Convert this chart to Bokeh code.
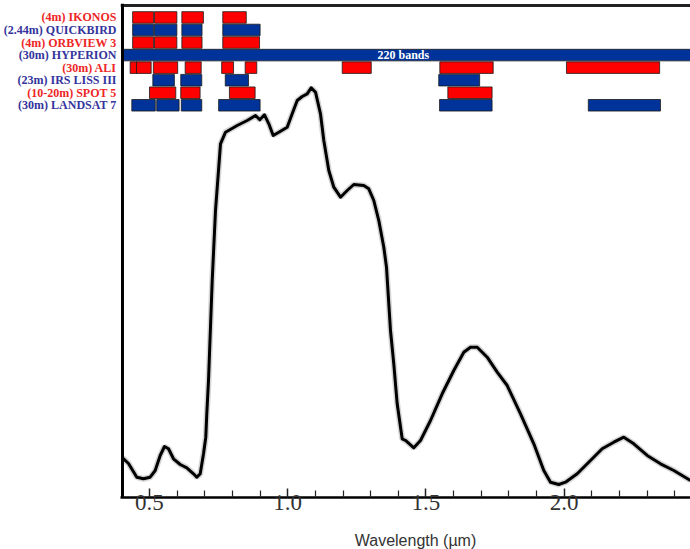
from bokeh.plotting import figure
from bokeh.layouts import row, column
from bokeh.models import (ColumnDataSource, FixedTicker, Span, Range1d,
                          NumeralTickFormatter, Label)
from bokeh.core.properties import value
from bokeh.embed import file_html
from bokeh.resources import INLINE

# ---------------- data ----------------
sensor_names = ["(4m) IKONOS", "(2.44m) QUICKBIRD", "(4m) ORBVIEW 3", "(30m) HYPERION",
                "(30m) ALI", "(23m) IRS LISS III", "(10-20m) SPOT 5", "(30m) LANDSAT 7"]
sensor_kind = ["r", "b", "r", "b", "r", "b", "r", "b"]

ikonos_bands = [(0.439, 0.515), (0.518, 0.599), (0.617, 0.695), (0.765, 0.850)]
quickbird_bands = [(0.439, 0.515), (0.518, 0.599), (0.617, 0.690), (0.765, 0.900)]
orbview_bands = [(0.439, 0.515), (0.518, 0.599), (0.617, 0.690), (0.765, 0.898)]
hyperion_bands = [(0.400, 2.576)]
ali_bands = [(0.430, 0.455), (0.453, 0.506), (0.514, 0.602), (0.629, 0.687), (0.761, 0.804),
             (0.846, 0.888), (1.197, 1.302), (1.550, 1.743), (2.008, 2.345)]
irs_bands = [(0.512, 0.590), (0.613, 0.689), (0.774, 0.858), (1.546, 1.694)]
spot_bands = [(0.500, 0.595), (0.613, 0.683), (0.789, 0.882), (1.579, 1.739)]
landsat_bands = [(0.436, 0.521), (0.526, 0.607), (0.615, 0.689), (0.750, 0.900),
                 (1.549, 1.739), (2.087, 2.348)]
all_bands = [ikonos_bands, quickbird_bands, orbview_bands, hyperion_bands,
             ali_bands, irs_bands, spot_bands, landsat_bands]
hyperion_note = "220 bands"
hyperion_note_x = 1.418

wavelength = [0.4023, 0.4241, 0.4541, 0.4783, 0.5025, 0.5206, 0.5387, 0.5542, 0.5687, 0.5868,
              0.6110, 0.6349, 0.6591, 0.6711, 0.6834, 0.6953, 0.7036, 0.7072, 0.7134, 0.7268,
              0.7387, 0.7568, 0.7749, 0.8172, 0.8533, 0.8834, 0.8989, 0.9159, 0.9315, 0.9474,
              0.9738, 0.9980, 1.0161, 1.0342, 1.0523, 1.0703, 1.0848, 1.1004, 1.1184, 1.1304,
              1.1485, 1.1666, 1.1908, 1.2150, 1.2389, 1.2750, 1.2931, 1.3112, 1.3293, 1.3474,
              1.3571, 1.3716, 1.3835, 1.3958, 1.4139, 1.4259, 1.4559, 1.4801, 1.5163, 1.5586,
              1.6005, 1.6367, 1.6609, 1.6852, 1.7213, 1.7575, 1.7937, 1.8418, 1.8899, 1.9260,
              1.9503, 1.9803, 2.0045, 2.0468, 2.0949, 2.1372, 2.1792, 2.2154, 2.2515, 2.3000,
              2.3481, 2.3962, 2.4565]
reflectance = [8.07, 6.91, 4.13, 3.80, 4.13, 5.49, 8.54, 10.37, 9.90, 7.87,
               6.71, 6.04, 4.82, 4.13, 4.82, 8.88, 12.26, 17.01, 23.78, 44.11,
               58.33, 71.89, 74.25, 75.61, 76.63, 77.64, 76.77, 77.78, 75.96, 73.58,
               74.45, 75.26, 77.99, 80.69, 81.50, 82.05, 83.27, 82.38, 77.99, 72.56,
               66.46, 63.07, 61.04, 62.40, 63.62, 63.41, 62.74, 60.37, 56.30, 50.87,
               46.81, 33.94, 27.17, 19.04, 11.93, 11.59, 10.10, 11.59, 15.65, 21.08,
               25.81, 29.53, 30.55, 30.55, 28.52, 25.47, 22.76, 17.01, 10.91, 5.49,
               3.11, 2.64, 3.11, 4.82, 7.52, 9.90, 11.24, 12.26, 10.91, 8.54,
               6.85, 5.49, 3.46]

major_ticks = [0.5, 1.0, 1.5, 2.0]
minor_ticks = [0.6, 0.7, 0.8, 0.9, 1.1, 1.2, 1.3, 1.4, 1.6, 1.7, 1.8, 1.9, 2.1, 2.2, 2.3, 2.4]
x_title = "Wavelength (µm)"

# ---------------- styling / layout ----------------
RED = "#ff0000"
BLUE = "#003399"
LABEL_RED = "#ee2626"
LABEL_BLUE = "#34349c"
W = 690
LEFT_W = 120            # width of the label strip (px)
X_LEFT_EDGE = 0.4023    # where the left frame line sits
X0, X1 = 0.39512, 2.4566
Y0, Y1 = 0.0, 100.41
Y_TOP_LINE = 100.0
ROW_TOP = 98.85
ROW_STEP = 2.55
ROW_H = 2.35
H_MAIN = 530
H_TITLE = 19
TOP_B, BOT_B = 3, 33
TITLE_X = 415           # px, centre of the axis title
TITLE_BASE = 9          # px above the bottom of the title strip


def clean(fig):
    fig.xgrid.visible = False
    fig.ygrid.visible = False
    fig.outline_line_color = None
    fig.background_fill_color = "white"
    fig.border_fill_color = "white"


shared_y = Range1d(Y0, Y1)

p = figure(width=W - LEFT_W, height=H_MAIN, output_backend="svg", toolbar_location=None,
           x_range=Range1d(X0, X1), y_range=shared_y, y_axis_location=None,
           min_border_left=0, min_border_right=0, min_border_top=TOP_B,
           min_border_bottom=BOT_B)
clean(p)

# band bars
left, right, bottom, top, fill = [], [], [], [], []
centers = []
for i, bands in enumerate(all_bands):
    c = ROW_TOP - ROW_STEP * (i + 0.5)
    centers.append(c)
    for (a, b) in bands:
        left.append(a)
        right.append(b)
        bottom.append(c - ROW_H / 2)
        top.append(c + ROW_H / 2)
        fill.append(RED if sensor_kind[i] == "r" else BLUE)
bars = ColumnDataSource(dict(left=left, right=right, bottom=bottom, top=top, fill=fill))
p.quad(left="left", right="right", bottom="bottom", top="top", fill_color="fill",
       line_color="#1a1a1a", line_width=0.8, source=bars)

p.add_layout(Label(x=hyperion_note_x, y=centers[3], text=hyperion_note, text_align="center",
                   text_baseline="middle", text_color="white", text_font="Liberation Serif",
                   text_font_style="bold", text_font_size="12px"))

# spectrum
p.line(wavelength, reflectance, line_color="#888888", line_width=6, line_alpha=0.35)
p.line(wavelength, reflectance, line_color="black", line_width=3, line_join="round")

# frame lines (top and left)
p.add_layout(Span(location=Y_TOP_LINE, dimension="width", line_color="#222222", line_width=3))
p.add_layout(Span(location=X_LEFT_EDGE, dimension="height", line_color="black", line_width=3))

# bottom axis
xa = p.xaxis[0]
xa.ticker = FixedTicker(ticks=major_ticks, minor_ticks=minor_ticks)
xa.formatter = NumeralTickFormatter(format="0.0")
xa.axis_line_width = 2.5
xa.axis_line_color = "black"
xa.major_tick_in = 9
xa.major_tick_out = 0
xa.minor_tick_in = 7
xa.minor_tick_out = 0
xa.major_tick_line_width = 1.5
xa.minor_tick_line_width = 1.2
xa.major_tick_line_color = "#222222"
xa.minor_tick_line_color = "#222222"
xa.major_label_text_font = "Liberation Serif"
xa.major_label_text_font_size = "23px"
xa.major_label_text_color = "#333333"
xa.major_label_standoff = -3

# label strip on the left (same vertical scale as the chart)
lab = figure(width=LEFT_W, height=H_MAIN, output_backend="svg", toolbar_location=None,
             x_range=Range1d(0, LEFT_W), y_range=shared_y,
             x_axis_location=None, y_axis_location=None,
             min_border_left=0, min_border_right=0, min_border_top=TOP_B,
             min_border_bottom=BOT_B)
clean(lab)
lab_src = ColumnDataSource(dict(
    x=[LEFT_W - 4] * len(sensor_names), y=centers, text=sensor_names,
    color=[LABEL_RED if k == "r" else LABEL_BLUE for k in sensor_kind]))
lab.text(x="x", y="y", text="text", source=lab_src, text_align="right",
         text_baseline="middle", text_color="color", text_font=value("Liberation Serif"),
         text_font_style="bold", text_font_size="12px")

# axis title strip at the bottom
tt = figure(width=W, height=H_TITLE, output_backend="svg", toolbar_location=None,
            x_range=Range1d(0, W), y_range=Range1d(0, H_TITLE),
            x_axis_location=None, y_axis_location=None,
            min_border_left=0, min_border_right=0, min_border_top=0, min_border_bottom=0)
clean(tt)
tt.text(x=[TITLE_X], y=[TITLE_BASE], text=[x_title], text_align="center",
        text_baseline="alphabetic", text_color="#333333", text_font=value("Liberation Sans"),
        text_font_size="16px")

layout = column(row(lab, p, spacing=0), tt, spacing=0)
open("out.html", "w").write(file_html(layout, INLINE))
